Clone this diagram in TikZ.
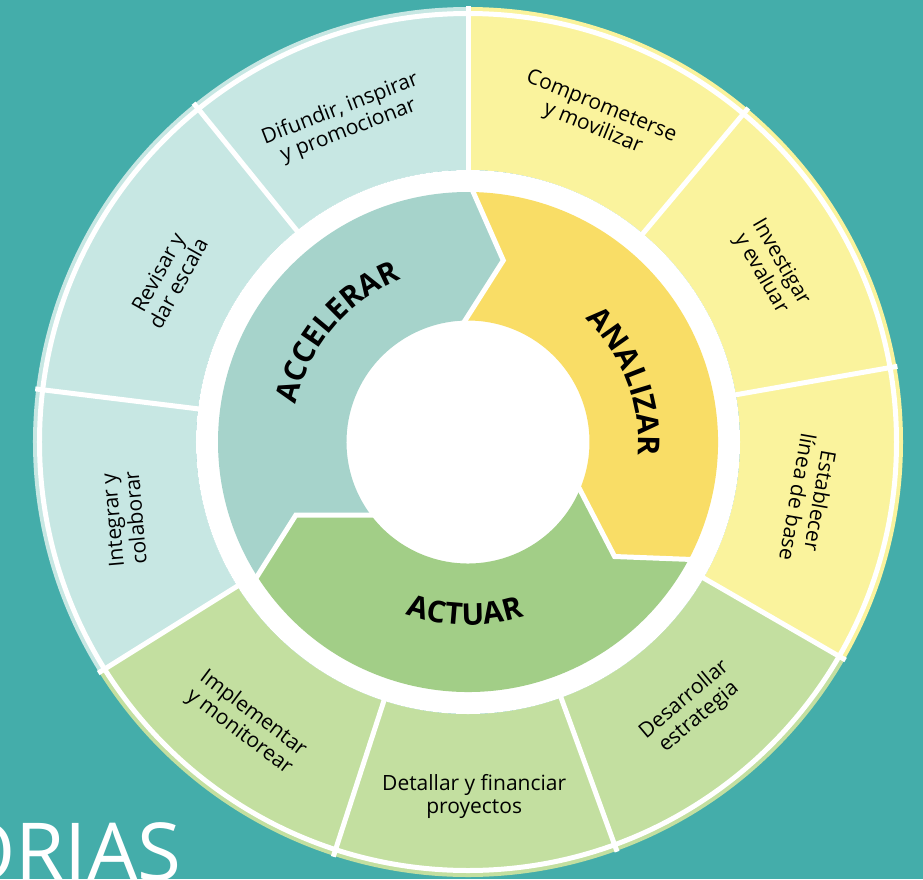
\documentclass[tikz,border=0pt]{standalone}
\usepackage{fontspec}
\setmainfont{Open Sans}
\usetikzlibrary{decorations.text}
\definecolor{bgteal}{HTML}{44ADAA}
\definecolor{segteal}{HTML}{C7E7E3}
\definecolor{segyellow}{HTML}{FAF39D}
\definecolor{seggreen}{HTML}{C3DFA0}
\definecolor{bandteal}{HTML}{A6D3CB}
\definecolor{bandyellow}{HTML}{F9DD66}
\definecolor{bandgreen}{HTML}{A2CE87}
\newcommand\mysector[3]{\fill[#1] (#2:272pt) arc[start angle=#2, end angle=#3, radius=272pt] -- (#3:435pt) arc[start angle=#3, end angle=#2, radius=435pt] -- cycle;}
\newcommand\bandfont{\bfseries\fontsize{30}{31}\selectfont}
\begin{document}
\begin{tikzpicture}[x=1pt,y=1pt,
  seglabel/.style={font=\fontsize{21}{23}\selectfont, align=center, text=black, inner sep=0pt},
  sepline/.style={white, line width=5pt},
  chevron/.style={white, line width=5pt, line join=miter, shorten <=-4pt, shorten >=-4pt},
  bandtext/.style={decorate, decoration={text along path, text align=center, text={|\bandfont|#1}}}
]
\useasboundingbox (-468,-437) rectangle (455,442);
\clip (-468,-437) rectangle (455,442);
\fill[bgteal] (-468,-437) rectangle (455,442);

% outer ring sectors
\mysector{segyellow}{50}{90}
\mysector{segyellow}{10}{50}
\mysector{segyellow}{-30}{10}
\mysector{seggreen}{-70}{-30}
\mysector{seggreen}{-108}{-70}
\mysector{seggreen}{-148}{-108}
\mysector{segteal}{173}{212}
\mysector{segteal}{129}{173}
\mysector{segteal}{90}{129}

\draw[sepline] (0,0) circle[radius=428.5pt];
\foreach \a in {90,50,10,-30,-70,-108,-148,173,129}
  \draw[sepline] (\a:270pt) -- (\a:436pt);

% white inner disk
\fill[white] (0,0) circle[radius=272pt];

% inner band
\fill[bandyellow] (-28:250pt) arc[start angle=-28, end angle=88.8, radius=250pt]
  -- (79:185pt) -- (91.4:121.5pt) arc[start angle=91.4, end angle=-23, radius=121.5pt]
  -- (-38:186pt) -- cycle;
\fill[bandgreen] (-147.5:250pt) arc[start angle=-147.5, end angle=-28, radius=250pt]
  -- (-38:186pt) -- (-23:121.5pt) arc[start angle=-23, end angle=-143, radius=121.5pt]
  -- (-157:187pt) -- cycle;
\fill[bandteal] (88.8:250pt) arc[start angle=88.8, end angle=212.5, radius=250pt]
  -- (203:187pt) -- (217:121.5pt) arc[start angle=217, end angle=91.4, radius=121.5pt]
  -- (79:185pt) -- cycle;

\draw[chevron] (88.8:250pt) -- (79:185pt) -- (91.4:121.5pt);
\draw[chevron] (-28:250pt) -- (-38:186pt) -- (-23:121.5pt);
\draw[chevron] (-147.5:250pt) -- (-157:187pt) -- (-143:121.5pt);

% band titles
\path[bandtext=ACCELERAR] (175:176pt) arc[start angle=175, end angle=105, radius=176pt];
\path[bandtext=ANALIZAR] (56:170pt) arc[start angle=56, end angle=-14, radius=170pt];
\path[bandtext=ACTUAR] (-126:183pt) arc[start angle=-126, end angle=-56, radius=183pt];

% outer labels
\node[seglabel, rotate=-22] (l1) at (68.3:349pt) {Comprometerse\\y movilizar};
\node[seglabel, rotate=-60] (l2) at (29.9:349pt) {Investigar\\y evaluar};
\node[seglabel, rotate=-100] (l3) at (-9.5:346pt) {Establecer\\línea de base};
\node[seglabel, rotate=40] (l4) at (-50:348pt) {Desarrollar\\estrategia};
\node[seglabel, rotate=0] (l5) at (-89:355pt) {Detallar y financiar\\proyectos};
\node[seglabel, rotate=-37] (l6) at (-128.3:358pt) {Implementar\\y monitorear};
\node[seglabel, rotate=95] (l7) at (192.6:352.5pt) {Integrar y\\colaborar};
\node[seglabel, rotate=61] (l8) at (151.3:342pt) {Revisar y\\dar escala};
\node[seglabel, rotate=21] (l9) at (111:345pt) {Difundir, inspirar\\y promocionar};

% partial title at bottom left
\node[font=\fontsize{80}{80}\selectfont, text=white, anchor=base east, inner sep=0pt] (orias) at (-286,-438) {ORIAS};
\end{tikzpicture}
\end{document}
